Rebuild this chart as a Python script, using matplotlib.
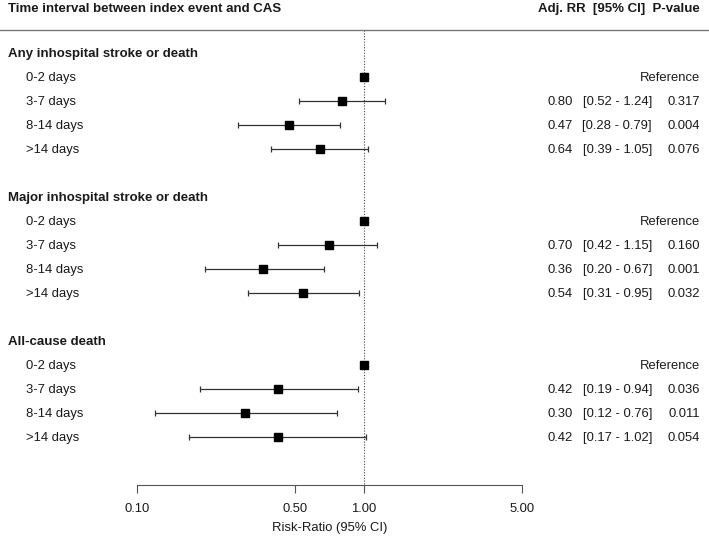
import numpy as np
import matplotlib.pyplot as plt
from matplotlib.lines import Line2D
from matplotlib.transforms import blended_transform_factory

plt.rcParams['font.family'] = ['Liberation Sans', 'DejaVu Sans']

groups = ['Any inhospital stroke or death',
          'Major inhospital stroke or death',
          'All-cause death']
intervals = ['0-2 days', '3-7 days', '8-14 days', '>14 days']
rr = [[1.0, 0.80, 0.47, 0.64],
      [1.0, 0.70, 0.36, 0.54],
      [1.0, 0.42, 0.30, 0.42]]
lo = [[None, 0.52, 0.28, 0.39],
      [None, 0.42, 0.20, 0.31],
      [None, 0.19, 0.12, 0.17]]
hi = [[None, 1.24, 0.79, 1.05],
      [None, 1.15, 0.67, 0.95],
      [None, 0.94, 0.76, 1.02]]
pval = [[None, '0.317', '0.004', '0.076'],
        [None, '0.160', '0.001', '0.032'],
        [None, '0.036', '0.011', '0.054']]
xticks = [0.10, 0.50, 1.00, 5.00]

W, H = 709, 538
fig = plt.figure(figsize=(W / 100, H / 100), dpi=100)
# axes x covers 0.1..5 on a log scale, y in row units (24 px per row)
ax = fig.add_axes([137 / W, 0, (522 - 137) / W, 1])
ax.set_xscale('log')
ax.set_xlim(0.1, 5)
ax.set_ylim((H - 5) / 24, -5 / 24)
ax.patch.set_alpha(0)

tr = blended_transform_factory(fig.transFigure, ax.transData)
fs = 9.4
fb = 9.5
col = '#1a1a1a'
bl = 0.17  # baseline offset below row centre


def txt(x, k, s, ha='left', bold=False):
    ax.text(x / W, k + bl, s, transform=tr, fontsize=fb if bold else fs,
            fontweight='bold' if bold else 'normal', va='baseline', ha=ha,
            color=col)


txt(8, 0.12, 'Time interval between index event and CAS', bold=True)
txt(700, 0.12, 'Adj. RR  [95% CI]  P-value', ha='right', bold=True)
fig.add_artist(Line2D([0, 1], [1 - 30 / H] * 2, transform=fig.transFigure,
                      color='#777777', lw=1))

for g, name in enumerate(groups):
    k0 = 2 + 6 * g
    txt(8, k0, name, bold=True)
    for i, lab in enumerate(intervals):
        k = k0 + 1 + i
        txt(26, k, lab)
        if lo[g][i] is None:
            ax.plot(rr[g][i], k, 's', color='black', ms=6.3, zorder=3)
            txt(700, k, 'Reference', ha='right')
        else:
            ax.errorbar(rr[g][i], k,
                        xerr=[[rr[g][i] - lo[g][i]], [hi[g][i] - rr[g][i]]],
                        fmt='s', color='black', ecolor='#333333', ms=6.3,
                        elinewidth=0.9, capsize=2.5, capthick=0.9, zorder=3)
            txt(573, k, f'{rr[g][i]:.2f}', ha='right')
            txt(652, k, f'[{lo[g][i]:.2f} - {hi[g][i]:.2f}]', ha='right')
            txt(700, k, pval[g][i], ha='right')

ax.plot([1, 1], [1.04, 20], color='#444444', lw=0.8, ls=(0, (1, 1.5)),
        zorder=1)

for s in ['top', 'right', 'left']:
    ax.spines[s].set_visible(False)
ax.spines['bottom'].set_position(('data', 20))
ax.spines['bottom'].set_bounds(0.1, 5)
ax.spines['bottom'].set_color('#555555')
ax.set_yticks([])
ax.set_xticks(xticks)
ax.set_xticklabels([f'{t:.2f}' for t in xticks])
ax.xaxis.set_minor_locator(plt.NullLocator())
ax.tick_params(axis='x', direction='out', length=6, color='#555555',
               labelsize=fs, labelcolor=col, pad=7)
ax.set_xlabel('Risk-Ratio (95% CI)', fontsize=fs, color=col, labelpad=5)

fig.savefig('out.png', dpi=100)
